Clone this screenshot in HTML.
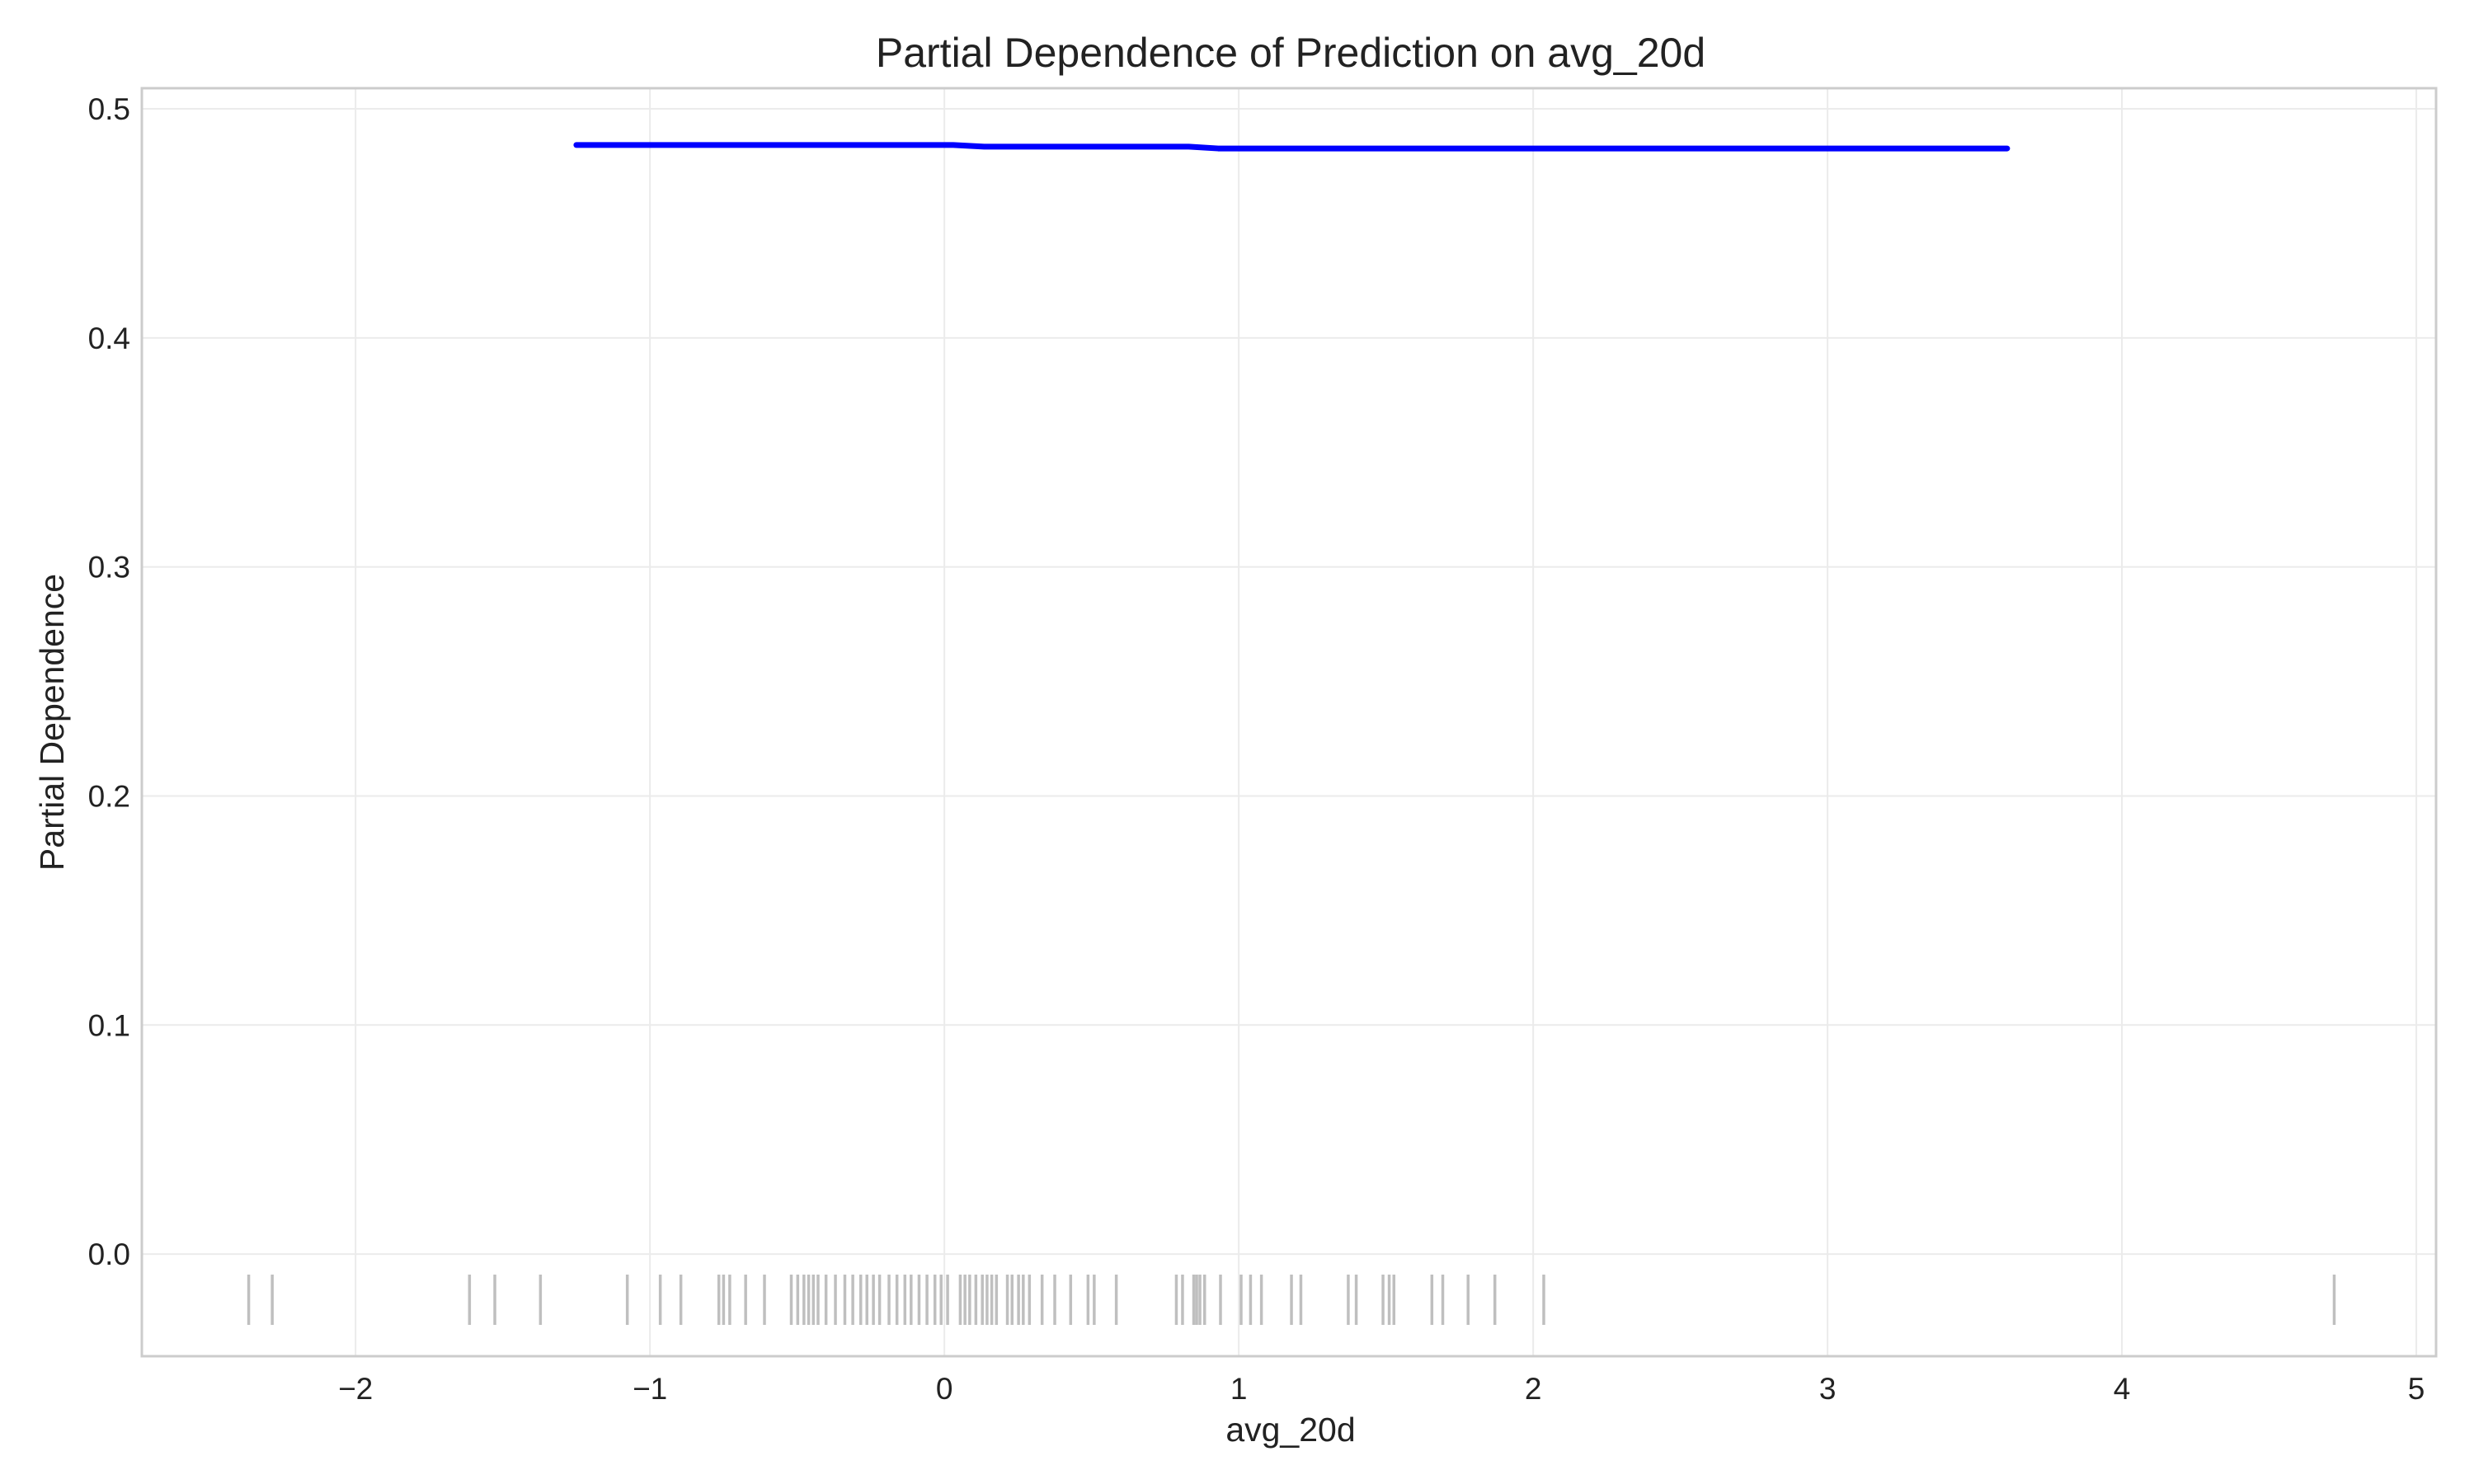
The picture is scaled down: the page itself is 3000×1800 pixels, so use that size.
<!DOCTYPE html>
<html><head><meta charset="utf-8"><style>
body{margin:0;background:#fff}
svg{display:block;font-family:"Liberation Sans",Arial,sans-serif}
</style></head><body>
<svg id="chart" width="3000" height="1800" viewBox="0 0 3000 1800" xmlns="http://www.w3.org/2000/svg">
<rect width="3000" height="1800" fill="#fff"/>
<g id="grid"></g>
<g id="rug"></g>
<g id="line"></g>
<rect x="172" y="107" width="2782" height="1538" fill="none" stroke="#cccccc" stroke-width="3"/>
<g id="ticks"></g>
<text x="1565" y="81" text-anchor="middle" font-size="50" fill="#222">Partial Dependence of Prediction on avg_20d</text>
<text x="1565" y="1748" text-anchor="middle" font-size="41" fill="#222">avg_20d</text>
<text transform="translate(77,876) rotate(-90)" text-anchor="middle" font-size="41" fill="#222">Partial Dependence</text>
</svg>
<script>
const xTicks = [-2,-1,0,1,2,3,4,5];
const xTickLabels = ["\u22122","\u22121","0","1","2","3","4","5"];
const yTicks = [0,0.1,0.2,0.3,0.4,0.5];
const yTickLabels = ["0.0","0.1","0.2","0.3","0.4","0.5"];
const pdX = [-1.25,0.03,0.135,0.83,0.93,3.61];
const pdY = [0.4842,0.4842,0.4835,0.4835,0.4827,0.4827];
const rugX = [-2.363,-2.283,-1.613,-1.527,-1.372,-1.077,-0.965,-0.895,-0.766,-0.750,-0.729,-0.675,-0.611,-0.520,-0.498,-0.477,-0.461,-0.445,-0.429,-0.402,-0.370,-0.338,-0.311,-0.284,-0.263,-0.241,-0.220,-0.188,-0.161,-0.134,-0.113,-0.086,-0.059,-0.032,-0.011,0.011,0.054,0.070,0.086,0.107,0.129,0.145,0.161,0.177,0.214,0.230,0.252,0.268,0.289,0.332,0.375,0.429,0.488,0.509,0.584,0.788,0.809,0.847,0.857,0.868,0.884,0.938,1.008,1.040,1.077,1.179,1.211,1.372,1.399,1.490,1.511,1.527,1.656,1.693,1.779,1.870,2.036,4.721];

const NS="http://www.w3.org/2000/svg";
const X0=172,X1=2954,Y0=107,Y1=1645;
const xMin=-2.726,xMax=5.067,yMin=-0.0446,yMax=0.509;
const sx=v=>X0+(v-xMin)/(xMax-xMin)*(X1-X0);
const sy=v=>Y1-(v-yMin)/(yMax-yMin)*(Y1-Y0);
function mk(tag,attrs,parent){const e=document.createElementNS(NS,tag);for(const k in attrs)e.setAttribute(k,attrs[k]);parent.appendChild(e);return e;}
const grid=document.getElementById('grid'),ticks=document.getElementById('ticks');
xTicks.forEach((t,i)=>{
  const l=mk('line',{x1:sx(t),x2:sx(t),y1:Y0,y2:Y1,stroke:'#ebebeb','stroke-width':2},grid);
  
  
  const tx=mk('text',{x:sx(t),y:1697,'text-anchor':'middle','font-size':37,fill:'#222'},ticks);
  tx.textContent=xTickLabels[i];
  
  
});
yTicks.forEach((t,i)=>{
  const l=mk('line',{x1:X0,x2:X1,y1:sy(t),y2:sy(t),stroke:'#ebebeb','stroke-width':2},grid);
  
  
  const tx=mk('text',{x:158,y:sy(t)+13,'text-anchor':'end','font-size':37,fill:'#222'},ticks);
  tx.textContent=yTickLabels[i];
  
  
});
const rug=document.getElementById('rug');
rugX.forEach(v=>{
  const l=mk('line',{x1:sx(v),x2:sx(v),y1:1546,y2:1607,stroke:'#000','stroke-opacity':0.25,'stroke-width':3.5},rug);
  
  
});
const p=mk('polyline',{points:pdX.map((x,i)=>sx(x)+','+sy(pdY[i])).join(' '),fill:'none',stroke:'#0000ff','stroke-width':7,'stroke-linecap':'round','stroke-linejoin':'round'},document.getElementById('line'));


</script>
</body></html>
